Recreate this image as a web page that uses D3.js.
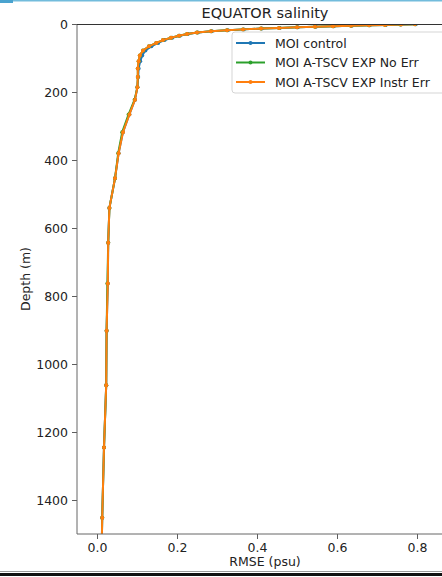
<!DOCTYPE html>
<html>
<head>
<meta charset="utf-8">
<script src="https://cdn.jsdelivr.net/npm/d3@7"></script>
<style>
  html, body { margin: 0; padding: 0; background: #fff; }
  svg { display: block; font-family: 'DejaVu Sans', sans-serif; }
</style>
</head>
<body>
<div id="chart"></div>
<script>
// model depth levels (m)
const depths = [0.494, 1.541, 2.646, 3.819, 5.078, 6.441, 7.93, 9.573, 11.405, 13.467,
  15.81, 18.496, 21.599, 25.211, 29.445, 34.434, 40.344, 47.374, 55.764, 65.807,
  77.854, 92.326, 109.729, 130.666, 155.851, 186.126, 222.475, 266.04, 318.127, 380.213,
  453.938, 541.089, 643.567, 763.333, 902.339, 1062.44, 1245.29, 1452.25, 1684.28];

// RMSE (psu) per series
const control = [0.797, 0.76, 0.722, 0.682, 0.637, 0.592, 0.547, 0.502, 0.457, 0.412,
  0.367, 0.327, 0.287, 0.252, 0.227, 0.207, 0.188, 0.169, 0.153, 0.136,
  0.121, 0.113, 0.108, 0.104, 0.103, 0.101, 0.095, 0.081, 0.065, 0.054,
  0.045, 0.031, 0.028, 0.027, 0.024, 0.023, 0.0175, 0.013, 0.01];
const noErr = [0.795, 0.758, 0.72, 0.68, 0.635, 0.59, 0.545, 0.5, 0.455, 0.41,
  0.365, 0.325, 0.285, 0.25, 0.225, 0.205, 0.185, 0.165, 0.148, 0.13,
  0.115, 0.107, 0.104, 0.102, 0.102, 0.101, 0.094, 0.079, 0.063, 0.053,
  0.045, 0.031, 0.028, 0.026, 0.024, 0.023, 0.0175, 0.013, 0.01];
const instrErr = [0.795, 0.76, 0.72, 0.68, 0.635, 0.59, 0.545, 0.5, 0.455, 0.41,
  0.365, 0.325, 0.285, 0.25, 0.225, 0.205, 0.185, 0.165, 0.148, 0.13,
  0.115, 0.107, 0.104, 0.102, 0.102, 0.101, 0.095, 0.081, 0.065, 0.054,
  0.045, 0.031, 0.028, 0.027, 0.024, 0.023, 0.0175, 0.013, 0.01];

const seriesNames = ['MOI control', 'MOI A-TSCV EXP No Err', 'MOI A-TSCV EXP Instr Err'];
const seriesValues = [control, noErr, instrErr];
const seriesColors = ['#1f77b4', '#2ca02c', '#ff7f0e'];

const xTicks = [0, 0.2, 0.4, 0.6, 0.8];
const yTicks = [0, 200, 400, 600, 800, 1000, 1200, 1400];

const width = 442, height = 577;
const margin = { top: 24, right: -11, bottom: 43, left: 77 };
const innerW = width - margin.left - margin.right;
const innerH = height - margin.top - margin.bottom;

const svg = d3.select('#chart').append('svg')
  .attr('width', width)
  .attr('height', height);

// window chrome bits around the screenshot
svg.append('rect').attr('x', 0).attr('y', 0).attr('width', width).attr('height', 1.5).attr('fill', '#72bcdc');
svg.append('rect').attr('x', 0).attr('y', 0).attr('width', 13).attr('height', 3).attr('fill', '#4aa3cf');
svg.append('rect').attr('x', 0).attr('y', 571).attr('width', width).attr('height', 1).attr('fill', '#999');
svg.append('rect').attr('x', 0).attr('y', 573).attr('width', width).attr('height', 3).attr('fill', '#111');

const x = d3.scaleLinear().domain([-0.05, 0.89]).range([0, innerW]);
const y = d3.scaleLinear().domain([0, 1500]).range([0, innerH]);

const g = svg.append('g').attr('transform', `translate(${margin.left},${margin.top})`);

g.append('clipPath').attr('id', 'plot-clip')
  .append('rect').attr('width', innerW).attr('height', innerH);

// series lines + markers
const line = d3.line().x(d => x(d[0])).y(d => y(d[1]));
const plot = g.append('g').attr('clip-path', 'url(#plot-clip)');
seriesValues.forEach((vals, i) => {
  const pts = vals.map((v, k) => [v, depths[k]]);
  plot.append('path')
    .attr('d', line(pts))
    .attr('fill', 'none')
    .attr('stroke', seriesColors[i])
    .attr('stroke-width', 2)
    .attr('stroke-linejoin', 'round');
  plot.selectAll(null).data(pts).enter().append('circle')
    .attr('cx', d => x(d[0]))
    .attr('cy', d => y(d[1]))
    .attr('r', 2)
    .attr('fill', seriesColors[i]);
});

// axes
const xAxis = g.append('g')
  .attr('transform', `translate(0,${innerH})`)
  .call(d3.axisBottom(x).tickValues(xTicks).tickFormat(d3.format('.1f')).tickSize(5).tickPadding(4));
const yAxis = g.append('g')
  .call(d3.axisLeft(y).tickValues(yTicks).tickFormat(d3.format('d')).tickSize(5).tickPadding(4));

[xAxis, yAxis].forEach(a => {
  a.select('.domain').remove();
  a.selectAll('line').attr('stroke', '#333').attr('stroke-width', 0.8);
  a.selectAll('text').attr('fill', '#222').style('font-size', '12.5px').style('font-family', 'DejaVu Sans');
});

// spines
g.append('line').attr('x1', 0).attr('x2', 0).attr('y1', 0).attr('y2', innerH)
  .attr('stroke', '#666').attr('stroke-width', 1);
g.append('line').attr('x1', 0).attr('x2', innerW).attr('y1', innerH).attr('y2', innerH)
  .attr('stroke', '#666').attr('stroke-width', 1);
g.append('line').attr('x1', 0).attr('x2', innerW).attr('y1', 0.5).attr('y2', 0.5)
  .attr('stroke', '#333').attr('stroke-width', 1);

// titles
svg.append('text')
  .attr('x', margin.left + innerW / 2).attr('y', 18)
  .attr('text-anchor', 'middle')
  .attr('fill', '#222')
  .style('font-size', '14.5px')
  .text('EQUATOR salinity');

svg.append('text')
  .attr('x', margin.left + innerW / 2).attr('y', 566)
  .attr('text-anchor', 'middle')
  .attr('fill', '#222')
  .style('font-size', '12.5px')
  .text('RMSE (psu)');

svg.append('text')
  .attr('transform', `translate(30,${margin.top + innerH / 2}) rotate(-90)`)
  .attr('text-anchor', 'middle')
  .attr('fill', '#222')
  .style('font-size', '12.5px')
  .text('Depth (m)');

// legend
const legend = svg.append('g').attr('transform', 'translate(232,32)');
legend.append('rect')
  .attr('width', 216).attr('height', 61)
  .attr('rx', 3)
  .attr('fill', '#fff').attr('fill-opacity', 0.8)
  .attr('stroke', '#d5d5d5').attr('stroke-width', 1);
seriesNames.forEach((name, i) => {
  const row = legend.append('g').attr('transform', `translate(0,${11 + i * 19.5})`);
  row.append('line').attr('x1', 4).attr('x2', 33).attr('y1', 0).attr('y2', 0)
    .attr('stroke', seriesColors[i]).attr('stroke-width', 2);
  row.append('circle').attr('cx', 18.5).attr('cy', 0).attr('r', 2).attr('fill', seriesColors[i]);
  row.append('text').attr('x', 43).attr('y', 4.5)
    .attr('fill', '#222')
    .style('font-size', '12.5px')
    .text(name);
});
</script>
</body>
</html>
